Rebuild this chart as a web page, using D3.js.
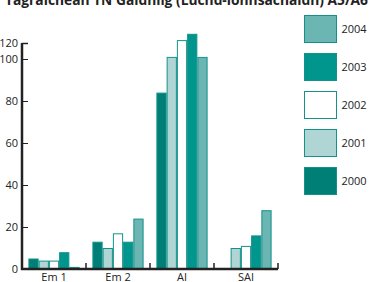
<!DOCTYPE html>
<html>
<head>
<meta charset="utf-8">
<script src="https://cdn.jsdelivr.net/npm/d3@7"></script>
<style>
  html, body { margin: 0; padding: 0; background: #fff; }
  svg { display: block; font-family: "Open Sans", "Noto Sans", sans-serif; }
</style>
</head>
<body>
<div id="chart"></div>
<script>
// Data
const categories = ["Em 1", "Em 2", "AI", "SAI"];
const years = ["2000", "2001", "2002", "2003", "2004"];
const values2000 = [5, 13, 84, 0];
const values2001 = [4, 10, 101, 10];
const values2002 = [4, 17, 109, 11];
const values2003 = [8, 13, 112, 16];
const values2004 = [1, 24, 101, 28];
const yTicks = [0, 20, 40, 60, 80, 100];
const title = "Tagraichean TN Gàidhlig (Luchd-ionnsachaidh) A5/A6";

const series = [values2000, values2001, values2002, values2003, values2004];
const colors = {
  "2000": "#007f76",
  "2001": "#b0d5d5",
  "2002": "#ffffff",
  "2003": "#00958d",
  "2004": "#6bb5b3"
};
const strokeColor = "#14928a";

const width = 376;
const height = 282;

const svg = d3.select("#chart")
  .append("svg")
  .attr("width", width)
  .attr("height", height);

// Scales
const x = d3.scaleBand()
  .domain(categories)
  .range([22, 278])
  .paddingInner(0.2)
  .paddingOuter(0.1);

const xYear = d3.scaleBand()
  .domain(years)
  .range([0, x.bandwidth()]);

const y = d3.scaleLinear()
  .domain([0, 100])
  .range([269, 59]);

// Title (cut off at top like the original)
svg.append("text")
  .attr("x", 5)
  .attr("y", 5)
  .attr("font-size", 13.5)
  .attr("font-weight", "bold")
  .attr("fill", "#222")
  .attr("textLength", 363)
  .attr("lengthAdjust", "spacingAndGlyphs")
  .text(title);

// Bars
const rows = [];
categories.forEach((c, i) => {
  years.forEach((yr, j) => {
    rows.push({ cat: c, year: yr, value: series[j][i] });
  });
});

svg.append("g")
  .selectAll("rect")
  .data(rows.filter(d => d.value > 0))
  .join("rect")
  .attr("x", d => x(d.cat) + xYear(d.year) + 0.5)
  .attr("y", d => y(d.value) + 0.5)
  .attr("width", xYear.bandwidth() - 1)
  .attr("height", d => y(0) - y(d.value) - 0.5)
  .attr("fill", d => colors[d.year])
  .attr("stroke", strokeColor)
  .attr("stroke-width", 1);

// Y axis
const yAxis = svg.append("g")
  .attr("transform", "translate(22,0)")
  .call(d3.axisRight(y).tickValues(yTicks).tickSize(6).tickFormat(""));
yAxis.select(".domain").remove();
yAxis.selectAll(".tick line").attr("stroke", "#222").attr("stroke-width", 1);

svg.append("g")
  .selectAll("text")
  .data(yTicks)
  .join("text")
  .attr("x", 18)
  .attr("y", d => y(d))
  .attr("dy", "0.35em")
  .attr("text-anchor", "end")
  .attr("font-size", 11)
  .attr("fill", "#222")
  .text(d => d);

// top of axis, labelled 120
svg.append("line")
  .attr("x1", 22).attr("x2", 28)
  .attr("y1", 43.5).attr("y2", 43.5)
  .attr("stroke", "#222").attr("stroke-width", 1.5);
svg.append("text")
  .attr("x", 18)
  .attr("y", 43)
  .attr("dy", "0.35em")
  .attr("text-anchor", "end")
  .attr("font-size", 11)
  .attr("fill", "#222")
  .text("120");

svg.append("line")
  .attr("x1", 22).attr("x2", 22)
  .attr("y1", 43).attr("y2", 270)
  .attr("stroke", "#222").attr("stroke-width", 2.5);

// X axis
const xAxis = svg.append("g")
  .attr("transform", `translate(0,${y(0)})`)
  .call(d3.axisBottom(x).tickSize(0).tickPadding(4));
xAxis.select(".domain").remove();
xAxis.selectAll(".tick text")
  .attr("font-size", 11)
  .attr("fill", "#222")
  .attr("font-family", "\"Open Sans\", \"Noto Sans\", sans-serif");

svg.append("line")
  .attr("x1", 21).attr("x2", 278)
  .attr("y1", y(0)).attr("y2", y(0))
  .attr("stroke", "#222").attr("stroke-width", 2.5);

svg.append("g")
  .selectAll("line")
  .data(categories)
  .join("line")
  .attr("x1", d => x(d) + x.bandwidth() + x.step() * x.paddingInner() / 2)
  .attr("x2", d => x(d) + x.bandwidth() + x.step() * x.paddingInner() / 2)
  .attr("y1", y(0))
  .attr("y2", y(0) - 6)
  .attr("stroke", "#222")
  .attr("stroke-width", 1.5);

// Legend
const legendYears = years.slice().reverse();
const legend = svg.append("g")
  .selectAll("g")
  .data(legendYears)
  .join("g")
  .attr("transform", (d, i) => `translate(304.5,${15.5 + i * 38})`);

legend.append("rect")
  .attr("width", 32)
  .attr("height", 27)
  .attr("fill", d => colors[d])
  .attr("stroke", strokeColor)
  .attr("stroke-width", 1);

legend.append("text")
  .attr("x", 37)
  .attr("y", 14)
  .attr("dy", "0.35em")
  .attr("font-size", 11)
  .attr("fill", "#222")
  .text(d => d);
</script>
</body>
</html>
